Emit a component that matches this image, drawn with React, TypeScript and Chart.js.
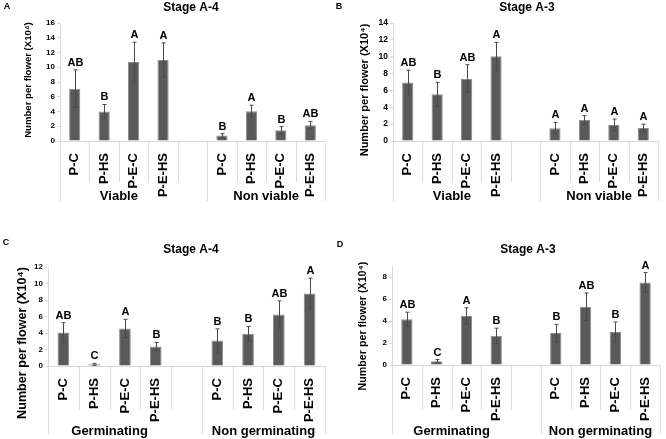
import React, { useEffect, useRef } from "react";
import { Chart, registerables } from "chart.js";

Chart.register(...registerables);

const FONT = '"Liberation Sans", Arial, sans-serif';

// ---------- data ----------
const categories = ["P-C", "P-HS", "P-E-C", "P-E-HS", "", "P-C", "P-HS", "P-E-C", "P-E-HS"];

const groupsAB = ["Viable", "Non viable"];
const groupsCD = ["Germinating", "Non germinating"];

const valuesA = [7.1, 4.0, 10.7, 11.0, null, 0.75, 4.05, 1.45, 2.15];
const errorsA = [2.55, 0.95, 2.7, 2.3, null, 0.25, 0.8, 0.5, 0.5];
const lettersA = ["AB", "B", "A", "A", "", "B", "A", "B", "AB"];

const valuesB = [6.95, 5.55, 7.4, 10.05, null, 1.5, 2.5, 1.9, 1.55];
const errorsB = [1.45, 1.4, 1.65, 1.65, null, 0.7, 0.5, 0.7, 0.45];
const lettersB = ["AB", "B", "AB", "A", "", "A", "A", "A", "A"];

const valuesC = [4.05, 0.2, 4.55, 2.35, null, 3.1, 3.9, 6.25, 8.8];
const errorsC = [1.2, 0.12, 1.1, 0.5, null, 1.4, 0.9, 1.65, 1.85];
const lettersC = ["AB", "C", "A", "B", "", "B", "B", "AB", "A"];

const valuesD = [4.15, 0.35, 4.45, 2.65, null, 2.9, 5.3, 3.0, 7.5];
const errorsD = [0.65, 0.15, 0.75, 0.7, null, 0.8, 1.25, 0.9, 0.9];
const lettersD = ["AB", "C", "A", "B", "", "B", "AB", "B", "A"];

type Panel = {
  letter: string;
  stage: string;
  groups: string[];
  values: (number | null)[];
  errors: (number | null)[];
  letters: string[];
  yMax: number;
  // layout
  left: number;
  top: number;
  width: number;
  height: number;
  area: { l: number; t: number; r: number; b: number };
  tickFont: number;
  yTitleFont: number;
  yTitleX: number;
  yTitleY: number;
  stageX: number;
  stageY: number;
  letterX: number;
  letterY: number;
  groupY: number;
  shortSep: number;
  longSep: number;
};

const panels: Panel[] = [
  {
    letter: "A", stage: "Stage A-4", groups: groupsAB, values: valuesA, errors: errorsA, letters: lettersA, yMax: 16,
    left: 0, top: 0, width: 333, height: 220,
    area: { l: 60, t: 23, r: 325, b: 141 },
    tickFont: 8, yTitleFont: 9.6, yTitleX: 28, yTitleY: 80,
    stageX: 191, stageY: 8, letterX: 7, letterY: 7,
    groupY: 196, shortSep: 182, longSep: 201,
  },
  {
    letter: "B", stage: "Stage A-3", groups: groupsAB, values: valuesB, errors: errorsB, letters: lettersB, yMax: 14,
    left: 333, top: 0, width: 333, height: 220,
    area: { l: 60, t: 23, r: 325, b: 141 },
    tickFont: 8.5, yTitleFont: 11, yTitleX: 32, yTitleY: 90,
    stageX: 194, stageY: 8, letterX: 6, letterY: 7,
    groupY: 196, shortSep: 182, longSep: 201,
  },
  {
    letter: "C", stage: "Stage A-4", groups: groupsCD, values: valuesC, errors: errorsC, letters: lettersC, yMax: 12,
    left: 0, top: 220, width: 333, height: 219,
    area: { l: 48, t: 47, r: 325, b: 146 },
    tickFont: 8, yTitleFont: 12.6, yTitleX: 23, yTitleY: 123,
    stageX: 191, stageY: 30, letterX: 6, letterY: 23,
    groupY: 211, shortSep: 190, longSep: 214,
  },
  {
    letter: "D", stage: "Stage A-3", groups: groupsCD, values: valuesD, errors: errorsD, letters: lettersD, yMax: 9,
    left: 333, top: 220, width: 333, height: 219,
    area: { l: 59, t: 46, r: 327, b: 145 },
    tickFont: 8, yTitleFont: 10.7, yTitleX: 30, yTitleY: 106,
    stageX: 195, stageY: 30, letterX: 7, letterY: 25,
    groupY: 211, shortSep: 190, longSep: 214,
  },
];

const annotationPlugin = {
  id: "annot",
  afterDatasetsDraw(chart: any, _args: any, opts: any) {
    const p: Panel = opts.panel;
    const ctx = chart.ctx;
    const x = chart.scales.x;
    const y = chart.scales.y;
    const meta = chart.getDatasetMeta(0);
    ctx.save();
    // error bars + significance letters
    meta.data.forEach((el: any, i: number) => {
      const v = p.values[i];
      const e = p.errors[i];
      if (v == null || e == null) return;
      const cx = Math.round(el.x) + 0.5;
      const yHi = y.getPixelForValue(v + e);
      const yLo = y.getPixelForValue(Math.max(v - e, 0));
      ctx.strokeStyle = "#4a4a4a";
      ctx.lineWidth = 1;
      ctx.beginPath();
      ctx.moveTo(cx, yHi);
      ctx.lineTo(cx, yLo);
      ctx.moveTo(cx - 2, yHi);
      ctx.lineTo(cx + 2, yHi);
      ctx.moveTo(cx - 2, yLo);
      ctx.lineTo(cx + 2, yLo);
      ctx.stroke();
      ctx.fillStyle = "#000";
      ctx.font = `bold 11px ${FONT}`;
      ctx.textAlign = "center";
      ctx.textBaseline = "alphabetic";
      ctx.fillText(p.letters[i], cx, yHi - 4);
    });
    ctx.restore();
  },
  afterDraw(chart: any, _args: any, opts: any) {
    const p: Panel = opts.panel;
    const ctx = chart.ctx;
    const x = chart.scales.x;
    const y = chart.scales.y;
    const n = categories.length;
    const step = (x.right - x.left) / n;
    ctx.save();
    // category separators
    ctx.strokeStyle = "#dcdcdc";
    ctx.lineWidth = 1;
    for (let k = 0; k <= n; k++) {
      const sx = Math.round(x.left + k * step) + 0.5;
      const long = k === 0 || k === 5 || k === n;
      ctx.beginPath();
      ctx.moveTo(sx, y.bottom);
      ctx.lineTo(sx, long ? p.longSep : p.shortSep);
      ctx.stroke();
    }
    // group labels
    ctx.fillStyle = "#000";
    ctx.font = `bold 13px ${FONT}`;
    ctx.textAlign = "center";
    ctx.textBaseline = "middle";
    const g1 = (x.getPixelForValue(0) + x.getPixelForValue(3)) / 2;
    const g2 = (x.getPixelForValue(5) + x.getPixelForValue(8)) / 2;
    ctx.fillText(p.groups[0], g1, p.groupY);
    ctx.fillText(p.groups[1], g2, p.groupY);
    // stage title
    ctx.font = `bold 12px ${FONT}`;
    ctx.fillText(p.stage, p.stageX, p.stageY);
    // panel letter
    ctx.font = `bold 9px ${FONT}`;
    ctx.fillText(p.letter, p.letterX, p.letterY);
    // y axis title
    ctx.translate(p.yTitleX, p.yTitleY);
    ctx.rotate(-Math.PI / 2);
    ctx.font = `bold ${p.yTitleFont}px ${FONT}`;
    ctx.fillText("Number per flower (X10\u2074)", 0, 0);
    ctx.restore();
  },
};

function PanelChart({ p }: { p: Panel }) {
  const ref = useRef<HTMLCanvasElement>(null);
  useEffect(() => {
    const canvas = ref.current!;
    const chart = new Chart(canvas, {
      type: "bar",
      data: {
        labels: categories,
        datasets: [
          {
            data: p.values as any,
            backgroundColor: "#5a5a5a",
            borderColor: "#8c8c8c",
            borderWidth: 1,
            barPercentage: 0.38,
            categoryPercentage: 1,
          },
        ],
      },
      options: {
        animation: false,
        responsive: false,
        devicePixelRatio: 1,
        layout: {
          padding: { left: 0, top: p.area.t, right: p.width - p.area.r, bottom: 0 },
        },
        plugins: {
          legend: { display: false },
          tooltip: { enabled: false },
          title: { display: false },
          annot: { panel: p },
        } as any,
        scales: {
          x: {
            type: "category",
            offset: true,
            grid: { display: false },
            border: { display: true, color: "#d9d9d9", width: 1 },
            ticks: {
              autoSkip: false,
              minRotation: 90,
              maxRotation: 90,
              padding: 4,
              color: "#000",
              font: { family: FONT, size: 13, weight: "bold" },
            },
            afterFit: (s: any) => {
              s.height = p.height - p.area.b;
              s.paddingLeft = 0;
              s.paddingRight = 0;
            },
          },
          y: {
            min: 0,
            max: p.yMax,
            grid: { drawOnChartArea: false, drawTicks: true, tickLength: 3, color: "#d9d9d9" },
            border: { display: true, color: "#d9d9d9", width: 1 },
            ticks: {
              stepSize: 2,
              includeBounds: false,
              padding: 2,
              color: "#000",
              font: { family: FONT, size: p.tickFont, weight: "bold" },
            },
            afterFit: (s: any) => {
              s.width = p.area.l;
              s.paddingTop = 0;
              s.paddingBottom = 0;
            },
          },
        },
      },
      plugins: [annotationPlugin],
    });
    return () => chart.destroy();
  }, [p]);
  return (
    <canvas
      ref={ref}
      width={p.width}
      height={p.height}
      style={{ position: "absolute", left: p.left, top: p.top, width: p.width, height: p.height }}
    />
  );
}

export default function App() {
  return (
    <div style={{ position: "fixed", left: 0, top: 0, width: 666, height: 439, background: "#fff" }}>
      {panels.map((p) => (
        <PanelChart key={p.letter} p={p} />
      ))}
    </div>
  );
}
